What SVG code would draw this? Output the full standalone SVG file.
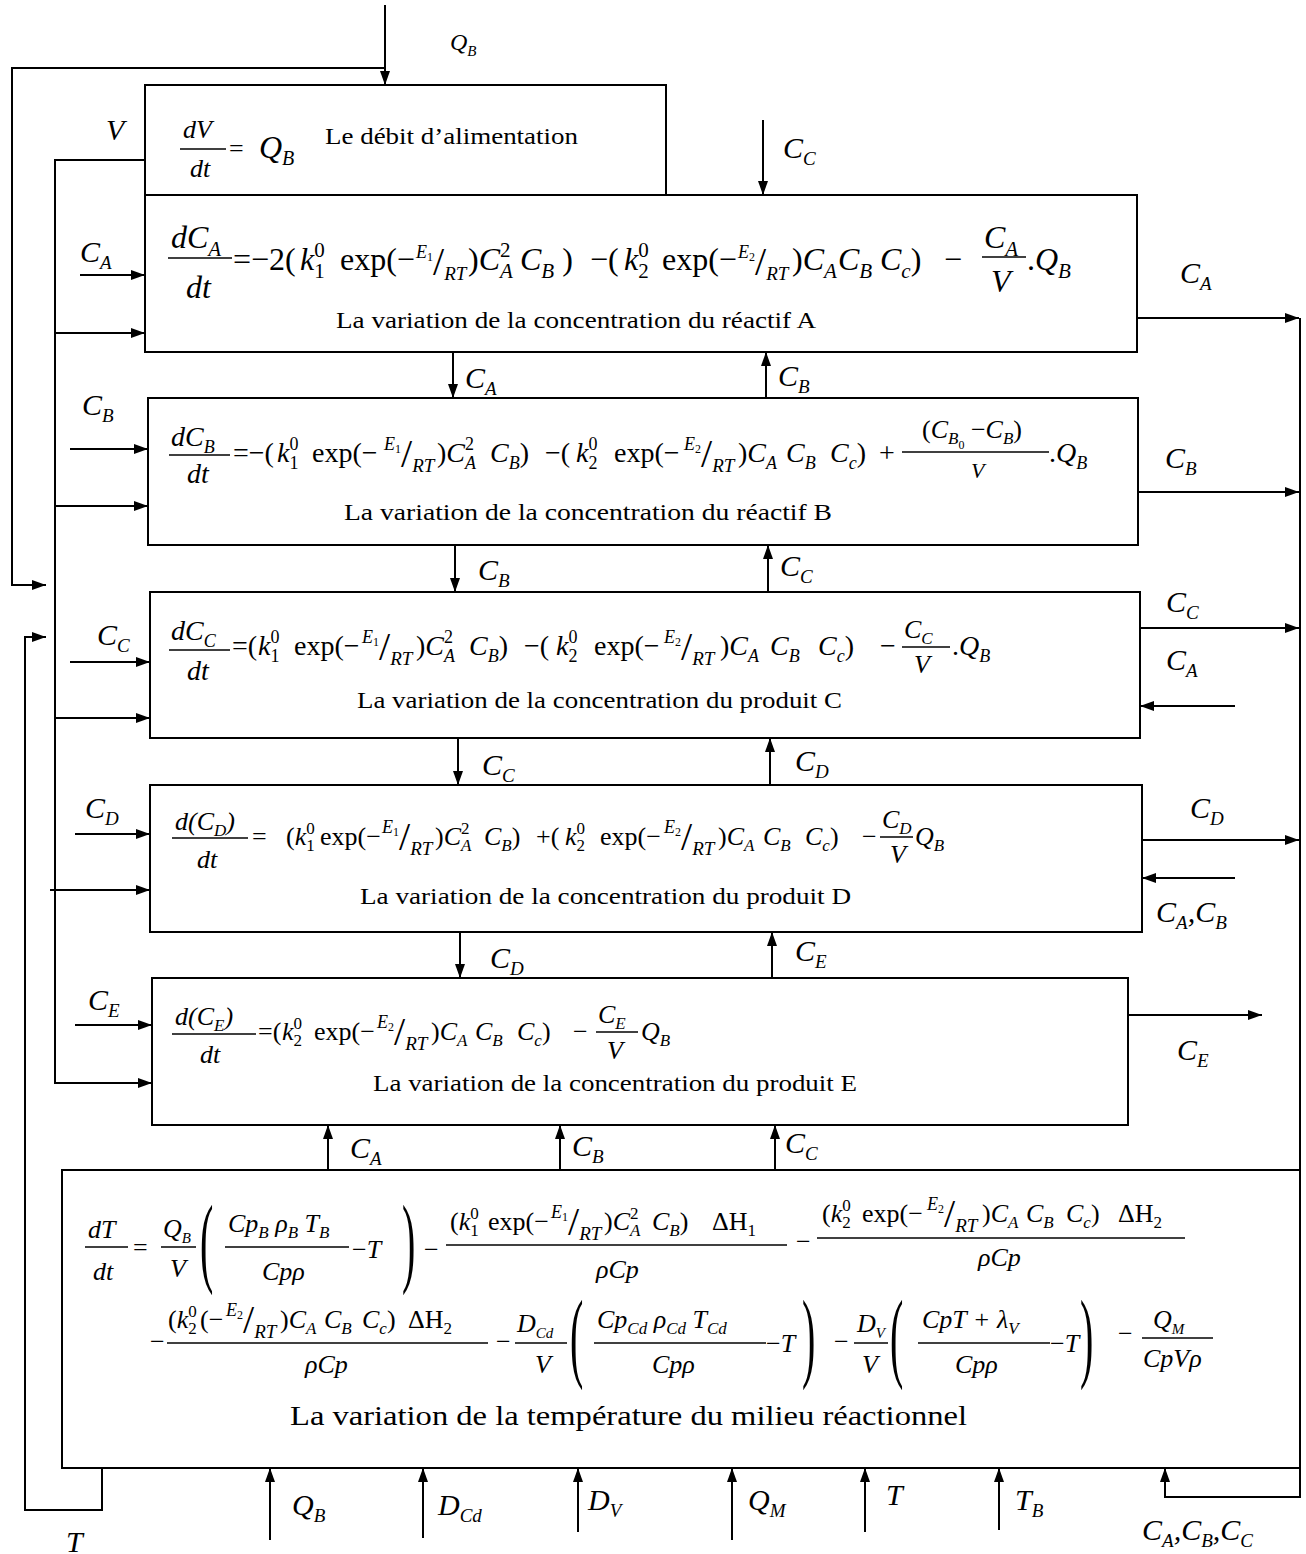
<svg xmlns="http://www.w3.org/2000/svg" width="1306" height="1554" viewBox="0 0 1306 1554">
<style>
.t{font-family:"Liberation Serif","Times New Roman",serif;fill:#000}
.i{font-style:italic}
.box{fill:#fff;stroke:#000;stroke-width:2}
.ln{fill:none;stroke:#000;stroke-width:2}
.ar{marker-end:url(#ah)}
.bar{stroke:#000;stroke-width:1.5}
.f32{font-size:32px}.f28{font-size:28px}.f26{font-size:26px}.f24{font-size:24px}
.s32{font-size:21px;baseline-shift:-8px}.p32{font-size:21px;baseline-shift:13px}
.s28{font-size:18px;baseline-shift:-7px}.p28{font-size:18px;baseline-shift:12px}
.s26{font-size:17px;baseline-shift:-6px}.p26{font-size:17px;baseline-shift:11px}
.s24{font-size:15px;baseline-shift:-6px}
.se{font-size:18px;baseline-shift:12px}.se1{font-size:12px;baseline-shift:9px}
.sl{font-size:40px;baseline-shift:-5px}.srt{font-size:19px;baseline-shift:-10px}
.lb{font-size:30px}.ls{font-size:19px;baseline-shift:-7px}
.cap{font-size:24px}
</style>
<defs>
<marker id="ah" markerWidth="14" markerHeight="10" refX="14" refY="5" orient="auto" markerUnits="userSpaceOnUse"><path d="M0,0 L14,5 L0,10 z" fill="#000"/></marker>
</defs>
<rect width="1306" height="1554" fill="#fff"/>

<g id="connectors">
<line class="ln ar" x1="385" y1="5" x2="385" y2="85"/>
<polyline class="ln ar" points="385,68 12,68 12,585 46,585"/>
<polyline class="ln ar" points="145,160 55,160 55,1083 152,1083"/>
<line class="ln ar" x1="55" y1="333" x2="145" y2="333"/>
<line class="ln ar" x1="55" y1="506" x2="148" y2="506"/>
<line class="ln ar" x1="55" y1="718" x2="150" y2="718"/>
<line class="ln ar" x1="50" y1="890" x2="150" y2="890"/>
<polyline class="ln ar" points="102,1468 102,1510 25,1510 25,637 46,637"/>
<line class="ln ar" x1="763" y1="120" x2="763" y2="195"/>
<line class="ln ar" x1="80" y1="275" x2="145" y2="275"/>
<line class="ln ar" x1="70" y1="449" x2="148" y2="449"/>
<line class="ln ar" x1="70" y1="662" x2="150" y2="662"/>
<line class="ln ar" x1="75" y1="834" x2="150" y2="834"/>
<line class="ln ar" x1="75" y1="1025" x2="152" y2="1025"/>
<line class="ln ar" x1="1137" y1="318" x2="1299" y2="318"/>
<line class="ln ar" x1="1138" y1="492" x2="1299" y2="492"/>
<line class="ln ar" x1="1140" y1="628" x2="1299" y2="628"/>
<line class="ln ar" x1="1142" y1="840" x2="1299" y2="840"/>
<line class="ln ar" x1="1128" y1="1015" x2="1262" y2="1015"/>
<line class="ln ar" x1="1235" y1="706" x2="1140" y2="706"/>
<line class="ln ar" x1="1235" y1="878" x2="1142" y2="878"/>
<polyline class="ln ar" points="1300,318 1300,1497 1165,1497 1165,1468"/>
<line class="ln ar" x1="453" y1="352" x2="453" y2="398"/>
<line class="ln ar" x1="766" y1="398" x2="766" y2="352"/>
<line class="ln ar" x1="455" y1="545" x2="455" y2="592"/>
<line class="ln ar" x1="768" y1="592" x2="768" y2="545"/>
<line class="ln ar" x1="458" y1="738" x2="458" y2="785"/>
<line class="ln ar" x1="770" y1="785" x2="770" y2="738"/>
<line class="ln ar" x1="460" y1="932" x2="460" y2="978"/>
<line class="ln ar" x1="772" y1="978" x2="772" y2="932"/>
<line class="ln ar" x1="328" y1="1170" x2="328" y2="1125"/>
<line class="ln ar" x1="560" y1="1170" x2="560" y2="1125"/>
<line class="ln ar" x1="775" y1="1170" x2="775" y2="1125"/>
<line class="ln ar" x1="270" y1="1540" x2="270" y2="1468"/>
<line class="ln ar" x1="423" y1="1538" x2="423" y2="1468"/>
<line class="ln ar" x1="578" y1="1532" x2="578" y2="1468"/>
<line class="ln ar" x1="732" y1="1540" x2="732" y2="1468"/>
<line class="ln ar" x1="865" y1="1532" x2="865" y2="1468"/>
<line class="ln ar" x1="999" y1="1530" x2="999" y2="1468"/>
</g>

<g id="labels">
<text class="t i" style="font-size:24px" x="450" y="50">Q<tspan style="font-size:15px;baseline-shift:-6px">B</tspan></text>
<text class="t i lb" x="106" y="140">V</text>
<text class="t i lb" x="783" y="158">C<tspan class="ls">C</tspan></text>
<text class="t i lb" x="80" y="262">C<tspan class="ls">A</tspan></text>
<text class="t i lb" x="1180" y="283">C<tspan class="ls">A</tspan></text>
<text class="t i lb" x="465" y="388">C<tspan class="ls">A</tspan></text>
<text class="t i lb" x="778" y="386">C<tspan class="ls">B</tspan></text>
<text class="t i lb" x="82" y="415">C<tspan class="ls">B</tspan></text>
<text class="t i lb" x="1165" y="468">C<tspan class="ls">B</tspan></text>
<text class="t i lb" x="478" y="580">C<tspan class="ls">B</tspan></text>
<text class="t i lb" x="780" y="576">C<tspan class="ls">C</tspan></text>
<text class="t i lb" x="97" y="645">C<tspan class="ls">C</tspan></text>
<text class="t i lb" x="1166" y="612">C<tspan class="ls">C</tspan></text>
<text class="t i lb" x="1166" y="670">C<tspan class="ls">A</tspan></text>
<text class="t i lb" x="482" y="775">C<tspan class="ls">C</tspan></text>
<text class="t i lb" x="795" y="771">C<tspan class="ls">D</tspan></text>
<text class="t i lb" x="85" y="818">C<tspan class="ls">D</tspan></text>
<text class="t i lb" x="1190" y="818">C<tspan class="ls">D</tspan></text>
<text class="t i lb" x="1156" y="922">C<tspan class="ls">A</tspan>,C<tspan class="ls">B</tspan></text>
<text class="t i lb" x="490" y="968">C<tspan class="ls">D</tspan></text>
<text class="t i lb" x="795" y="961">C<tspan class="ls">E</tspan></text>
<text class="t i lb" x="88" y="1010">C<tspan class="ls">E</tspan></text>
<text class="t i lb" x="1177" y="1060">C<tspan class="ls">E</tspan></text>
<text class="t i lb" x="350" y="1158">C<tspan class="ls">A</tspan></text>
<text class="t i lb" x="572" y="1156">C<tspan class="ls">B</tspan></text>
<text class="t i lb" x="785" y="1153">C<tspan class="ls">C</tspan></text>
<text class="t i lb" x="292" y="1515">Q<tspan class="ls">B</tspan></text>
<text class="t i lb" x="438" y="1515">D<tspan class="ls">Cd</tspan></text>
<text class="t i lb" x="588" y="1510">D<tspan class="ls">V</tspan></text>
<text class="t i lb" x="748" y="1510">Q<tspan class="ls">M</tspan></text>
<text class="t i lb" x="886" y="1505">T</text>
<text class="t i lb" x="1015" y="1510">T<tspan class="ls">B</tspan></text>
<text class="t i lb" x="1142" y="1540">C<tspan class="ls">A</tspan>,C<tspan class="ls">B</tspan>,C<tspan class="ls">C</tspan></text>
<text class="t i lb" x="66" y="1552">T</text>
</g>

<g id="node-V">
<rect class="box" x="145" y="85" width="521" height="110"/>
<text class="t i" style="font-size:26px" x="183" y="138">dV</text>
<line class="bar" x1="180" y1="149" x2="226" y2="149"/>
<text class="t i" style="font-size:26px" x="190" y="177">dt</text>
<text class="t" style="font-size:26px" x="229" y="157">=</text>
<text class="t i" style="font-size:32px" x="259" y="158">Q<tspan style="font-size:20px;baseline-shift:-7px">B</tspan></text>
<text class="t cap" x="325" y="144" textLength="253" lengthAdjust="spacingAndGlyphs">Le débit d’alimentation</text>
</g>

<g id="node-A">
<rect class="box" x="145" y="195" width="992" height="157"/>
<text class="t i f32" x="171" y="248">dC<tspan class="s32">A</tspan></text>
<line class="bar" x1="168" y1="258" x2="232" y2="258"/>
<text class="t i f32" x="186" y="298">dt</text>
<text class="t f32" x="233" y="270">=−2(</text>
<text class="t f32" x="300" y="270"><tspan class="i">k</tspan><tspan class="s32">1</tspan><tspan class="p32" dx="-10.5">0</tspan></text>
<text class="t f32" x="340" y="270">exp(−</text>
<text class="t f32" x="416" y="270"><tspan class="se i">E</tspan><tspan class="se1">1</tspan><tspan class="sl">/</tspan><tspan class="srt i">RT</tspan></text>
<text class="t f32" x="468" y="270">)<tspan class="i">C</tspan><tspan class="p32">2</tspan><tspan class="s32 i" dx="-10.5">A</tspan></text>
<text class="t f32" x="520" y="270"><tspan class="i">C</tspan><tspan class="s32 i">B</tspan> )</text>
<text class="t f32" x="590" y="270">−(</text>
<text class="t f32" x="624" y="270"><tspan class="i">k</tspan><tspan class="s32">2</tspan><tspan class="p32" dx="-10.5">0</tspan></text>
<text class="t f32" x="662" y="270">exp(−</text>
<text class="t f32" x="738" y="270"><tspan class="se i">E</tspan><tspan class="se1">2</tspan><tspan class="sl">/</tspan><tspan class="srt i">RT</tspan></text>
<text class="t f32" x="792" y="270">)<tspan class="i">C</tspan><tspan class="s32 i">A</tspan></text>
<text class="t f32" x="838" y="270"><tspan class="i">C</tspan><tspan class="s32 i">B</tspan></text>
<text class="t f32" x="880" y="270"><tspan class="i">C</tspan><tspan class="s32 i">c</tspan>)</text>
<text class="t f32" x="944" y="270">−</text>
<text class="t i f32" x="984" y="248">C<tspan class="s32">A</tspan></text>
<line class="bar" x1="982" y1="257" x2="1026" y2="257"/>
<text class="t i f32" x="991" y="292">V</text>
<text class="t f32" x="1027" y="270">.<tspan class="i">Q</tspan><tspan class="s32 i">B</tspan></text>
<text class="t cap" x="336" y="328" textLength="480" lengthAdjust="spacingAndGlyphs">La variation de la concentration du réactif A</text>
</g>

<g id="node-B">
<rect class="box" x="148" y="398" width="990" height="147"/>
<text class="t i f28" x="171" y="446">dC<tspan class="s28">B</tspan></text>
<line class="bar" x1="169" y1="455" x2="230" y2="455"/>
<text class="t i f28" x="187" y="483">dt</text>
<text class="t f28" x="233" y="462">=−(</text>
<text class="t f28" x="277" y="462"><tspan class="i">k</tspan><tspan class="s28">1</tspan><tspan class="p28" dx="-9">0</tspan></text>
<text class="t f28" x="312" y="462">exp(−</text>
<text class="t f28" x="384" y="462"><tspan class="se i">E</tspan><tspan class="se1">1</tspan><tspan class="sl">/</tspan><tspan class="srt i">RT</tspan></text>
<text class="t f28" x="437" y="462">)<tspan class="i">C</tspan><tspan class="p28">2</tspan><tspan class="s28 i" dx="-9">A</tspan></text>
<text class="t f28" x="490" y="462"><tspan class="i">C</tspan><tspan class="s28 i">B</tspan>)</text>
<text class="t f28" x="545" y="462">−(</text>
<text class="t f28" x="576" y="462"><tspan class="i">k</tspan><tspan class="s28">2</tspan><tspan class="p28" dx="-9">0</tspan></text>
<text class="t f28" x="614" y="462">exp(−</text>
<text class="t f28" x="684" y="462"><tspan class="se i">E</tspan><tspan class="se1">2</tspan><tspan class="sl">/</tspan><tspan class="srt i">RT</tspan></text>
<text class="t f28" x="738" y="462">)<tspan class="i">C</tspan><tspan class="s28 i">A</tspan></text>
<text class="t f28" x="786" y="462"><tspan class="i">C</tspan><tspan class="s28 i">B</tspan></text>
<text class="t f28" x="830" y="462"><tspan class="i">C</tspan><tspan class="s28 i">c</tspan>)</text>
<text class="t f28" x="879" y="462">+</text>
<text class="t f26" x="922" y="438">(<tspan class="i">C</tspan><tspan class="s26 i">B</tspan><tspan style="font-size:12px;baseline-shift:-11px">0</tspan>  −<tspan class="i">C</tspan><tspan class="s26 i">B</tspan>)</text>
<line class="bar" x1="902" y1="452" x2="1049" y2="452"/>
<text class="t i" style="font-size:22px" x="971" y="478">V</text>
<text class="t f28" x="1049" y="462">.<tspan class="i">Q</tspan><tspan class="s28 i">B</tspan></text>
<text class="t cap" x="344" y="520" textLength="488" lengthAdjust="spacingAndGlyphs">La variation de la concentration du réactif  B</text>
</g>

<g id="node-C">
<rect class="box" x="150" y="592" width="990" height="146"/>
<text class="t i f28" x="171" y="640">dC<tspan class="s28">C</tspan></text>
<line class="bar" x1="169" y1="650" x2="230" y2="650"/>
<text class="t i f28" x="187" y="680">dt</text>
<text class="t f28" x="232" y="655">=(</text>
<text class="t f28" x="258" y="655"><tspan class="i">k</tspan><tspan class="s28">1</tspan><tspan class="p28" dx="-9">0</tspan></text>
<text class="t f28" x="294" y="655">exp(−</text>
<text class="t f28" x="362" y="655"><tspan class="se i">E</tspan><tspan class="se1">1</tspan><tspan class="sl">/</tspan><tspan class="srt i">RT</tspan></text>
<text class="t f28" x="416" y="655">)<tspan class="i">C</tspan><tspan class="p28">2</tspan><tspan class="s28 i" dx="-9">A</tspan></text>
<text class="t f28" x="469" y="655"><tspan class="i">C</tspan><tspan class="s28 i">B</tspan>)</text>
<text class="t f28" x="524" y="655">−(</text>
<text class="t f28" x="556" y="655"><tspan class="i">k</tspan><tspan class="s28">2</tspan><tspan class="p28" dx="-9">0</tspan></text>
<text class="t f28" x="594" y="655">exp(−</text>
<text class="t f28" x="664" y="655"><tspan class="se i">E</tspan><tspan class="se1">2</tspan><tspan class="sl">/</tspan><tspan class="srt i">RT</tspan></text>
<text class="t f28" x="720" y="655">)<tspan class="i">C</tspan><tspan class="s28 i">A</tspan></text>
<text class="t f28" x="770" y="655"><tspan class="i">C</tspan><tspan class="s28 i">B</tspan></text>
<text class="t f28" x="818" y="655"><tspan class="i">C</tspan><tspan class="s28 i">c</tspan>)</text>
<text class="t f28" x="880" y="655">−</text>
<text class="t i f26" x="904" y="638">C<tspan class="s26">C</tspan></text>
<line class="bar" x1="902" y1="647" x2="950" y2="647"/>
<text class="t i f26" x="914" y="673">V</text>
<text class="t f28" x="952" y="655">.<tspan class="i">Q</tspan><tspan class="s28 i">B</tspan></text>
<text class="t cap" x="357" y="708" textLength="485" lengthAdjust="spacingAndGlyphs">La variation de la concentration du produit C</text>
</g>

<g id="node-D">
<rect class="box" x="150" y="785" width="992" height="147"/>
<text class="t i f26" x="175" y="830">d(C<tspan class="s26">D</tspan>)</text>
<line class="bar" x1="172" y1="838" x2="248" y2="838"/>
<text class="t i f26" x="197" y="868">dt</text>
<text class="t f26" x="252" y="845">=</text>
<text class="t f26" x="286" y="845">(<tspan class="i">k</tspan><tspan class="s26">1</tspan><tspan class="p26" dx="-8.5">0</tspan></text>
<text class="t f26" x="320" y="845">exp(−</text>
<text class="t f26" x="382" y="845"><tspan class="se i">E</tspan><tspan class="se1">1</tspan><tspan class="sl">/</tspan><tspan class="srt i">RT</tspan></text>
<text class="t f26" x="435" y="845">)<tspan class="i">C</tspan><tspan class="p26">2</tspan><tspan class="s26 i" dx="-8.5">A</tspan></text>
<text class="t f26" x="484" y="845"><tspan class="i">C</tspan><tspan class="s26 i">B</tspan>)</text>
<text class="t f26" x="536" y="845">+(</text>
<text class="t f26" x="565" y="845"><tspan class="i">k</tspan><tspan class="s26">2</tspan><tspan class="p26" dx="-8.5">0</tspan></text>
<text class="t f26" x="600" y="845">exp(−</text>
<text class="t f26" x="664" y="845"><tspan class="se i">E</tspan><tspan class="se1">2</tspan><tspan class="sl">/</tspan><tspan class="srt i">RT</tspan></text>
<text class="t f26" x="718" y="845">)<tspan class="i">C</tspan><tspan class="s26 i">A</tspan></text>
<text class="t f26" x="763" y="845"><tspan class="i">C</tspan><tspan class="s26 i">B</tspan></text>
<text class="t f26" x="805" y="845"><tspan class="i">C</tspan><tspan class="s26 i">c</tspan>)</text>
<text class="t f26" x="862" y="845">−</text>
<text class="t i f26" x="882" y="828">C<tspan class="s26">D</tspan></text>
<line class="bar" x1="880" y1="837" x2="913" y2="837"/>
<text class="t i f26" x="890" y="863">V</text>
<text class="t i f26" x="915" y="845">Q<tspan class="s26">B</tspan></text>
<text class="t cap" x="360" y="904" textLength="491" lengthAdjust="spacingAndGlyphs">La variation de la concentration du produit D</text>
</g>

<g id="node-E">
<rect class="box" x="152" y="978" width="976" height="147"/>
<text class="t i f26" x="175" y="1025">d(C<tspan class="s26">E</tspan>)</text>
<line class="bar" x1="172" y1="1034" x2="256" y2="1034"/>
<text class="t i f26" x="200" y="1063">dt</text>
<text class="t f26" x="258" y="1040">=(</text>
<text class="t f26" x="282" y="1040"><tspan class="i">k</tspan><tspan class="s26">2</tspan><tspan class="p26" dx="-8.5">0</tspan></text>
<text class="t f26" x="314" y="1040">exp(−</text>
<text class="t f26" x="377" y="1040"><tspan class="se i">E</tspan><tspan class="se1">2</tspan><tspan class="sl">/</tspan><tspan class="srt i">RT</tspan></text>
<text class="t f26" x="431" y="1040">)<tspan class="i">C</tspan><tspan class="s26 i">A</tspan></text>
<text class="t f26" x="475" y="1040"><tspan class="i">C</tspan><tspan class="s26 i">B</tspan></text>
<text class="t f26" x="517" y="1040"><tspan class="i">C</tspan><tspan class="s26 i">c</tspan>)</text>
<text class="t f26" x="573" y="1040">−</text>
<text class="t i f26" x="598" y="1023">C<tspan class="s26">E</tspan></text>
<line class="bar" x1="596" y1="1032" x2="638" y2="1032"/>
<text class="t i f26" x="607" y="1059">V</text>
<text class="t i f26" x="641" y="1040">Q<tspan class="s26">B</tspan></text>
<text class="t cap" x="373" y="1091" textLength="484" lengthAdjust="spacingAndGlyphs">La variation de la concentration du produit E</text>
</g>

<g id="node-T">
<rect class="box" x="62" y="1170" width="1238" height="298"/>
<text class="t i f26" x="88" y="1238">dT</text>
<line class="bar" x1="85" y1="1247" x2="128" y2="1247"/>
<text class="t i f26" x="93" y="1280">dt</text>
<text class="t f26" x="133" y="1256">=</text>
<text class="t i f26" x="163" y="1237">Q<tspan class="s24">B</tspan></text>
<line class="bar" x1="161" y1="1247" x2="196" y2="1247"/>
<text class="t i f26" x="170" y="1277">V</text>
<text class="t" font-size="100" transform="translate(200,1274) scale(0.4,1)">(</text>
<text class="t i f26" x="228" y="1232">Cp<tspan class="s26">B</tspan> ρ<tspan class="s26">B</tspan> T<tspan class="s26">B</tspan></text>
<line class="bar" x1="225" y1="1247" x2="349" y2="1247"/>
<text class="t i f26" x="262" y="1280">Cpρ</text>
<text class="t f26" x="352" y="1258">−<tspan class="i">T</tspan></text>
<text class="t" font-size="100" transform="translate(402,1274) scale(0.4,1)">)</text>
<text class="t f26" x="424" y="1258">−</text>
<text class="t f26" x="450" y="1230">(<tspan class="i">k</tspan><tspan class="s26">1</tspan><tspan class="p26" dx="-8.5">0</tspan></text>
<text class="t f26" x="488" y="1230">exp(−</text>
<text class="t f26" x="551" y="1230"><tspan class="se i">E</tspan><tspan class="se1">1</tspan><tspan class="sl">/</tspan><tspan class="srt i">RT</tspan></text>
<text class="t f26" x="604" y="1230">)<tspan class="i">C</tspan><tspan class="p26">2</tspan><tspan class="s26 i" dx="-8.5">A</tspan></text>
<text class="t f26" x="652" y="1230"><tspan class="i">C</tspan><tspan class="s26 i">B</tspan>)</text>
<text class="t f26" x="712" y="1230">ΔH<tspan class="s26">1</tspan></text>
<line class="bar" x1="446" y1="1245" x2="787" y2="1245"/>
<text class="t i f26" x="596" y="1278">ρCp</text>
<text class="t f26" x="796" y="1250">−</text>
<text class="t f26" x="822" y="1222">(<tspan class="i">k</tspan><tspan class="s26">2</tspan><tspan class="p26" dx="-8.5">0</tspan></text>
<text class="t f26" x="862" y="1222">exp(−</text>
<text class="t f26" x="927" y="1222"><tspan class="se i">E</tspan><tspan class="se1">2</tspan><tspan class="sl">/</tspan><tspan class="srt i">RT</tspan></text>
<text class="t f26" x="982" y="1222">)<tspan class="i">C</tspan><tspan class="s26 i">A</tspan></text>
<text class="t f26" x="1026" y="1222"><tspan class="i">C</tspan><tspan class="s26 i">B</tspan></text>
<text class="t f26" x="1066" y="1222"><tspan class="i">C</tspan><tspan class="s26 i">c</tspan>)</text>
<text class="t f26" x="1118" y="1222">ΔH<tspan class="s26">2</tspan></text>
<line class="bar" x1="817" y1="1238" x2="1185" y2="1238"/>
<text class="t i f26" x="978" y="1266">ρCp</text>

<text class="t f26" x="150" y="1350">−</text>
<text class="t f26" x="168" y="1328">(<tspan class="i">k</tspan><tspan class="s26">2</tspan><tspan class="p26" dx="-8.5">0</tspan></text>
<text class="t f26" x="200" y="1328">(−</text>
<text class="t f26" x="226" y="1328"><tspan class="se i">E</tspan><tspan class="se1">2</tspan><tspan class="sl">/</tspan><tspan class="srt i">RT</tspan></text>
<text class="t f26" x="280" y="1328">)<tspan class="i">C</tspan><tspan class="s26 i">A</tspan></text>
<text class="t f26" x="324" y="1328"><tspan class="i">C</tspan><tspan class="s26 i">B</tspan></text>
<text class="t f26" x="362" y="1328"><tspan class="i">C</tspan><tspan class="s26 i">c</tspan>)</text>
<text class="t f26" x="408" y="1328">ΔH<tspan class="s26">2</tspan></text>
<line class="bar" x1="167" y1="1343" x2="488" y2="1343"/>
<text class="t i f26" x="305" y="1373">ρCp</text>
<text class="t f26" x="496" y="1350">−</text>
<text class="t i f26" x="517" y="1332">D<tspan class="s24">Cd</tspan></text>
<line class="bar" x1="515" y1="1343" x2="567" y2="1343"/>
<text class="t i f26" x="535" y="1373">V</text>
<text class="t" font-size="100" transform="translate(570,1369) scale(0.4,1)">(</text>
<text class="t i f26" x="597" y="1328">Cp<tspan class="s26">Cd</tspan> ρ<tspan class="s26">Cd</tspan> T<tspan class="s26">Cd</tspan></text>
<line class="bar" x1="594" y1="1343" x2="766" y2="1343"/>
<text class="t i f26" x="652" y="1373">Cpρ</text>
<text class="t f26" x="766" y="1352">−<tspan class="i">T</tspan></text>
<text class="t" font-size="100" transform="translate(802,1369) scale(0.4,1)">)</text>
<text class="t f26" x="834" y="1350">−</text>
<text class="t i f26" x="857" y="1332">D<tspan class="s24">V</tspan></text>
<line class="bar" x1="854" y1="1343" x2="888" y2="1343"/>
<text class="t i f26" x="862" y="1373">V</text>
<text class="t" font-size="100" transform="translate(890,1369) scale(0.4,1)">(</text>
<text class="t i f26" x="922" y="1328">CpT + λ<tspan class="s26">V</tspan></text>
<line class="bar" x1="918" y1="1343" x2="1050" y2="1343"/>
<text class="t i f26" x="955" y="1373">Cpρ</text>
<text class="t f26" x="1050" y="1352">−<tspan class="i">T</tspan></text>
<text class="t" font-size="100" transform="translate(1080,1369) scale(0.4,1)">)</text>
<text class="t f26" x="1118" y="1342">−</text>
<text class="t i f26" x="1153" y="1328">Q<tspan class="s24">M</tspan></text>
<line class="bar" x1="1142" y1="1338" x2="1213" y2="1338"/>
<text class="t i f26" x="1143" y="1367">CpVρ</text>
<text class="t" style="font-size:28px" x="290" y="1425" textLength="677" lengthAdjust="spacingAndGlyphs">La variation de la température du milieu réactionnel</text>
</g>
</svg>
